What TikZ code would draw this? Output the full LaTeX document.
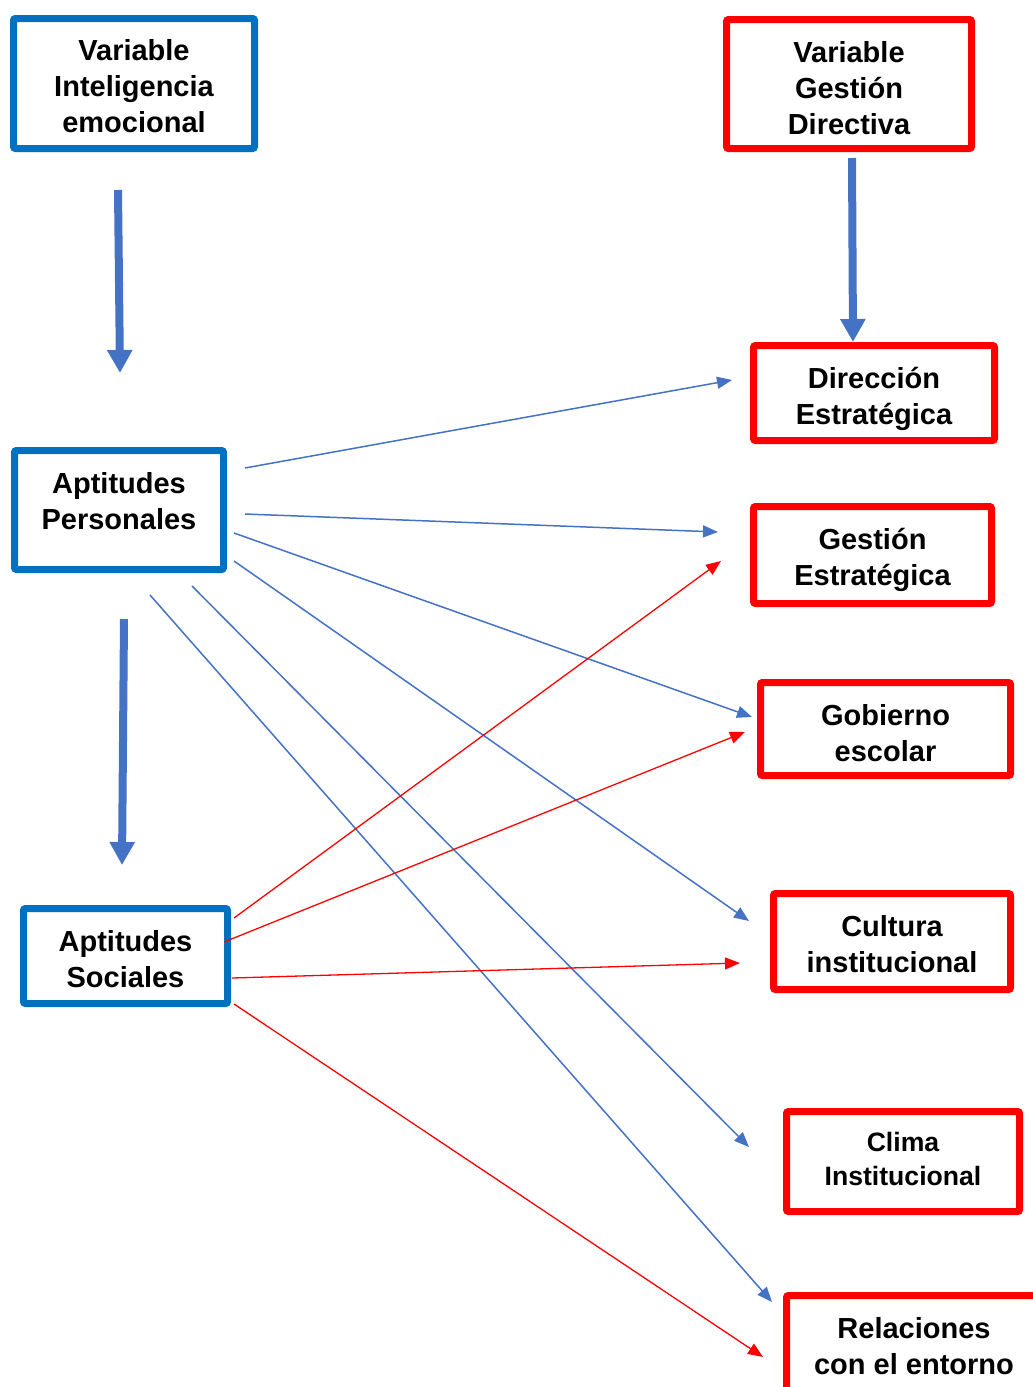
\documentclass[tikz,border=0pt]{standalone}
\usepackage{fontspec}
\setmainfont{Liberation Sans}
\usetikzlibrary{arrows.meta}
\definecolor{boxblue}{RGB}{0,112,192}
\definecolor{arrblue}{RGB}{68,114,196}
\definecolor{boxred}{RGB}{255,0,0}
\tikzset{
  basebox/.style={draw, line width=3.5pt, rounded corners=1pt, fill=white, inner sep=0pt},
  bluebox/.style={basebox, draw=boxblue},
  redbox/.style={basebox, draw=boxred},
  txt/.style={inner sep=0pt, align=center, font=\bfseries\fontsize{14.5pt}{18pt}\selectfont},
  smalltxt/.style={txt, font=\bfseries\fontsize{13.3pt}{17pt}\selectfont},
  bigarrow/.style={draw=arrblue, line width=4pt, -{Triangle[length=11.5pt,width=12pt]}},
  bluearrow/.style={draw=arrblue, line width=0.75pt, -{Triangle[length=7.5pt,width=6pt]}},
  redarrow/.style={draw=boxred, line width=0.65pt, -{Triangle[length=7.5pt,width=6pt]}}
}
\begin{document}
\begin{tikzpicture}[x=0.5pt,y=-0.5pt]
\useasboundingbox (0,0) rectangle (1033,1387);
\clip (0,0) rectangle (1033,1387);
% boxes
\node[bluebox, minimum width=120.5pt, minimum height=65pt] (vie) at (134,83.5) {};
\node[txt, yshift=-1.5pt] (vie-t) at (vie) {Variable\\Inteligencia\\emocional};
\node[redbox, minimum width=122.5pt, minimum height=64.5pt] (vgd) at (849,84) {};
\node[txt, yshift=-2pt] (vgd-t) at (vgd) {Variable\\Gestión\\Directiva};
\node[redbox, minimum width=120.5pt, minimum height=47.5pt] (de) at (874,393) {};
\node[txt, yshift=-3pt] (de-t) at (de) {Dirección\\Estratégica};
\node[redbox, minimum width=119pt, minimum height=48.5pt] (ge) at (872.5,555) {};
\node[txt, yshift=-2.25pt] (ge-t) at (ge) {Gestión\\Estratégica};
\node[redbox, minimum width=125pt, minimum height=46.5pt] (gob) at (885.5,729) {};
\node[txt, yshift=-2pt] (gob-t) at (gob) {Gobierno\\escolar};
\node[redbox, minimum width=118.5pt, minimum height=48pt] (ci) at (892,941.5) {};
\node[txt, yshift=-1.5pt] (ci-t) at (ci) {Cultura\\institucional};
\node[redbox, minimum width=116.5pt, minimum height=50pt] (cl) at (903,1161.5) {};
\node[smalltxt, yshift=1.5pt] (cl-t) at (cl) {Clima\\Institucional};
\node[redbox, minimum width=127.5pt, minimum height=50.5pt] (rel) at (914,1346) {};
\node[txt] (rel-t) at (rel) {Relaciones\\con el entorno};
\node[bluebox, minimum width=104.5pt, minimum height=59.5pt] (ap) at (119,510) {};
\node[txt, yshift=4.5pt] (ap-t) at (ap) {Aptitudes\\Personales};
\node[bluebox, minimum width=102pt, minimum height=47.5pt] (as) at (125.5,956) {};
\node[txt, yshift=-1.5pt] (as-t) at (as) {Aptitudes\\Sociales};
% connector ends
\coordinate (a1s) at (118,190); \coordinate (a1e) at (120,373);
\coordinate (a2s) at (852,158); \coordinate (a2e) at (853,342);
\coordinate (a3s) at (124,619); \coordinate (a3e) at (122,865);
\coordinate (p1s) at (245,468); \coordinate (p1e) at (732,380);
\coordinate (p2s) at (245,514); \coordinate (p2e) at (718,532);
\coordinate (p3s) at (234,533); \coordinate (p3e) at (752,717);
\coordinate (p4s) at (234,561); \coordinate (p4e) at (749,921);
\coordinate (p5s) at (192,586); \coordinate (p5e) at (749,1147);
\coordinate (p6s) at (150,595); \coordinate (p6e) at (772,1302);
\coordinate (s1s) at (234,918); \coordinate (s1e) at (721,561);
\coordinate (s2s) at (224,942); \coordinate (s2e) at (745,732);
\coordinate (s3s) at (232,978); \coordinate (s3e) at (740,963);
\coordinate (s4s) at (234,1004); \coordinate (s4e) at (763,1357);
% thick arrows
\draw[bigarrow] (a1s) -- (a1e);
\draw[bigarrow] (a2s) -- (a2e);
\draw[bigarrow] (a3s) -- (a3e);
% blue thin arrows
\draw[bluearrow] (p1s) -- (p1e);
\draw[bluearrow] (p2s) -- (p2e);
\draw[bluearrow] (p3s) -- (p3e);
\draw[bluearrow] (p4s) -- (p4e);
\draw[bluearrow] (p5s) -- (p5e);
\draw[bluearrow] (p6s) -- (p6e);
% red thin arrows
\draw[redarrow] (s1s) -- (s1e);
\draw[redarrow] (s2s) -- (s2e);
\draw[redarrow] (s3s) -- (s3e);
\draw[redarrow] (s4s) -- (s4e);
\end{tikzpicture}
\end{document}
